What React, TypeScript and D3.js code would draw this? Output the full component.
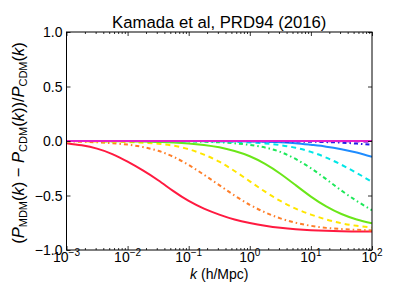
import { useEffect, useRef } from 'react';
import * as d3 from 'd3';

// log10(k) grid the curves were read on
const logK = [-3, -2.75, -2.5, -2.25, -2, -1.75, -1.5, -1.25, -1, -0.75, -0.5, -0.25, 0, 0.25, 0.5, 0.75, 1, 1.25, 1.5, 1.75, 2];

const redSolid = [-0.02, -0.04, -0.07, -0.12, -0.19, -0.27, -0.36, -0.46, -0.55, -0.62, -0.675, -0.72, -0.752, -0.777, -0.796, -0.809, -0.818, -0.824, -0.828, -0.83, -0.831];
const orangeDashDot = [-0.004, -0.007, -0.012, -0.02, -0.033, -0.055, -0.09, -0.145, -0.22, -0.31, -0.405, -0.5, -0.585, -0.655, -0.71, -0.75, -0.778, -0.797, -0.808, -0.815, -0.82];
const yellowDashed = [-0.002, -0.003, -0.004, -0.006, -0.01, -0.015, -0.025, -0.043, -0.075, -0.125, -0.19, -0.275, -0.37, -0.465, -0.55, -0.62, -0.675, -0.72, -0.755, -0.778, -0.793];
const limeSolid = [0, 0, -0.001, -0.002, -0.003, -0.005, -0.009, -0.014, -0.022, -0.036, -0.058, -0.092, -0.14, -0.21, -0.3, -0.405, -0.51, -0.6, -0.67, -0.72, -0.755];
const greenDashDot = [0, 0, 0, 0, -0.001, -0.001, -0.002, -0.003, -0.005, -0.007, -0.012, -0.021, -0.036, -0.06, -0.1, -0.165, -0.25, -0.35, -0.455, -0.55, -0.635];
const cyanDashed = [0, 0, 0, 0, 0, -0.001, -0.001, -0.002, -0.002, -0.003, -0.005, -0.008, -0.013, -0.022, -0.038, -0.062, -0.1, -0.152, -0.218, -0.293, -0.375];
const azureSolid = [0, 0, 0, 0, 0, 0, 0, 0, -0.001, -0.001, -0.001, -0.002, -0.004, -0.007, -0.012, -0.02, -0.035, -0.052, -0.075, -0.105, -0.145];
const blueDashDot = [0, 0, 0, 0, 0, 0, 0, 0, 0, 0, 0, -0.001, -0.001, -0.002, -0.003, -0.005, -0.007, -0.01, -0.015, -0.024, -0.035];
const violetDashed = [0, 0, 0, 0, 0, 0, 0, 0, 0, 0, 0, 0, 0, 0, 0, -0.001, -0.001, -0.002, -0.003, -0.005, -0.008];
const magentaSolid = [0, 0, 0, 0, 0, 0, 0, 0, 0, 0, 0, 0, 0, 0, 0, 0, 0, 0, 0, 0, 0];

const seriesValues = [redSolid, orangeDashDot, yellowDashed, limeSolid, greenDashDot, cyanDashed, azureSolid, blueDashDot, violetDashed, magentaSolid];
const seriesColors = ['#ff1a40', '#ff7f2a', '#ffe600', '#6be619', '#1ee85a', '#00e6e6', '#1e8cff', '#1f1fe6', '#8a2be2', '#e61ec8'];
const seriesDash = ['none', '4,3,1.5,3', '5,4', 'none', '4,3,1.5,3', '5,4', 'none', '4,3,1.5,3', '5,4', 'none'];

const xMajorExp = [-3, -2, -1, 0, 1, 2];
const yTicks = [-1, -0.5, 0, 0.5, 1];
const yTickLabels = ['\u22121.0', '\u22120.5', '0.0', '0.5', '1.0'];

const W = 399;
const H = 299;
const margin = { top: 32, right: 27, bottom: 49, left: 66.5 };
const font = '"Liberation Sans", Arial, Helvetica, sans-serif';

export default function App() {
  const svgRef = useRef<SVGSVGElement>(null);

  useEffect(() => {
    if (!svgRef.current) return;
    const svg = d3.select(svgRef.current);
    svg.selectAll('*').remove();

    const x0 = margin.left;
    const x1 = W - margin.right;
    const y0 = margin.top;
    const y1 = H - margin.bottom;

    const x = d3.scaleLog().domain([1e-3, 1e2]).range([x0, x1]);
    const y = d3.scaleLinear().domain([-1, 1]).range([y1, y0]);

    svg.append('rect').attr('width', W).attr('height', H).attr('fill', '#fff');

    svg.append('defs').append('clipPath').attr('id', 'plotclip')
      .append('rect').attr('x', x0).attr('y', y0).attr('width', x1 - x0).attr('height', y1 - y0);

    // curves
    const line = d3.line<number>()
      .x((_, i) => x(Math.pow(10, logK[i])))
      .y((d) => y(d))
      .curve(d3.curveNatural);

    const g = svg.append('g').attr('clip-path', 'url(#plotclip)');
    seriesValues.forEach((vals, i) => {
      g.append('path')
        .attr('d', line(vals))
        .attr('fill', 'none')
        .attr('stroke', seriesColors[i])
        .attr('stroke-width', 2)
        .attr('stroke-dasharray', seriesDash[i]);
    });

    // ticks (inward, all four sides)
    const majors = xMajorExp.map((e) => Math.pow(10, e));
    const minors: number[] = [];
    xMajorExp.slice(0, -1).forEach((e) => {
      for (let m = 2; m <= 9; m++) minors.push(m * Math.pow(10, e));
    });

    const addAxis = (axis: d3.Axis<any>, tx: number, ty: number) => {
      const a = svg.append('g').attr('transform', `translate(${tx},${ty})`).call(axis);
      a.select('.domain').remove();
      a.selectAll('line').attr('stroke', '#000').attr('stroke-width', 0.8);
      a.selectAll('text').remove();
    };

    addAxis(d3.axisBottom(x).tickValues(majors).tickSize(-4), 0, y1);
    addAxis(d3.axisBottom(x).tickValues(minors).tickSize(-2), 0, y1);
    addAxis(d3.axisTop(x).tickValues(majors).tickSize(-4), 0, y0);
    addAxis(d3.axisTop(x).tickValues(minors).tickSize(-2), 0, y0);
    addAxis(d3.axisLeft(y).tickValues(yTicks).tickSize(-4), x0, 0);
    addAxis(d3.axisRight(y).tickValues(yTicks).tickSize(-4), x1, 0);

    // frame
    svg.append('rect')
      .attr('x', x0).attr('y', y0).attr('width', x1 - x0).attr('height', y1 - y0)
      .attr('fill', 'none').attr('stroke', '#000').attr('stroke-width', 1);

    // y tick labels
    yTicks.forEach((v, i) => {
      svg.append('text')
        .attr('x', x0 - 4).attr('y', y(v) + 5)
        .attr('text-anchor', 'end')
        .attr('font-family', font).attr('font-size', 14)
        .text(yTickLabels[i]);
    });

    // x tick labels 10^n
    xMajorExp.forEach((e) => {
      const t = svg.append('text')
        .attr('x', x(Math.pow(10, e))).attr('y', y1 + 12)
        .attr('text-anchor', 'middle')
        .attr('font-family', font).attr('font-size', 14);
      t.append('tspan').text('10');
      t.append('tspan').attr('dy', -6).attr('font-size', 10).text(e < 0 ? `\u2212${-e}` : `${e}`);
    });

    // title
    svg.append('text')
      .attr('x', (x0 + x1) / 2).attr('y', 28)
      .attr('text-anchor', 'middle')
      .attr('font-family', font).attr('font-size', 16.7)
      .text('Kamada et al, PRD94 (2016)');

    // x label
    const xl = svg.append('text')
      .attr('x', (x0 + x1) / 2).attr('y', 279)
      .attr('text-anchor', 'middle')
      .attr('font-family', font).attr('font-size', 14);
    xl.append('tspan').attr('font-style', 'italic').text('k');
    xl.append('tspan').text(' (h/Mpc)');

    // y label
    const yl = svg.append('text')
      .attr('transform', `translate(24,${(y0 + y1) / 2 + 2}) rotate(-90)`)
      .attr('text-anchor', 'middle')
      .attr('font-family', font).attr('font-size', 16.5);
    const part = (txt: string, opts: { it?: boolean; sub?: boolean } = {}) => {
      const s = yl.append('tspan').text(txt);
      if (opts.it) s.attr('font-style', 'italic');
      if (opts.sub) s.attr('font-size', 11).attr('dy', 3);
      return s;
    };
    const back = (txt: string) => {
      yl.append('tspan').attr('dy', -3).text(txt);
    };
    part('(');
    part('P', { it: true });
    part('MDM', { sub: true });
    back('(');
    part('k', { it: true });
    part(') \u2212 ');
    part('P', { it: true });
    part('CDM', { sub: true });
    back('(');
    part('k', { it: true });
    part('))/');
    part('P', { it: true });
    part('CDM', { sub: true });
    back('(');
    part('k', { it: true });
    part(')');
  }, []);

  return (
    <div style={{ position: 'absolute', left: 0, top: 0 }}>
      <svg ref={svgRef} width={W} height={H} style={{ display: 'block' }} />
    </div>
  );
}
